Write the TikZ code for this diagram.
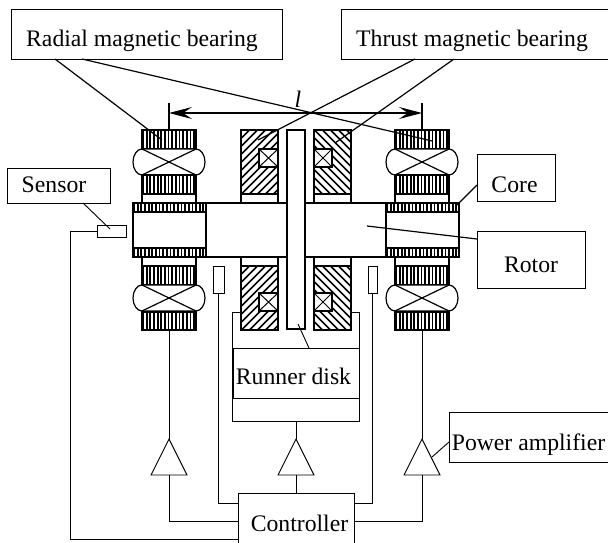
\documentclass[tikz,border=0pt]{standalone}
\usepackage{fontspec}
\setmainfont{Liberation Serif}
\usetikzlibrary{arrows.meta}
\newcommand{\lbl}[3]{\hspace*{#1pt}\smash{\raisebox{-#2pt}{#3}}}
\newcommand{\vstripes}[4]{% x1 x2 y1 y2
  \draw[fill=white,main] ({#1},#3) rectangle ({#2},#4);
  \pgfmathsetmacro{\nst}{int(((#2)-(#1)-1)/3.65)}
  \foreach \i in {0,...,\nst} \draw[line width=1.8pt] ({#1+1+\i*3.65},#3) -- ({#1+1+\i*3.65},#4);
}
\newcommand{\hatchbox}[5]{% x1 x2 y1 y2 dir
  \begin{scope}
    \clip (#1,#3) rectangle (#2,#4);
    \foreach \i in {-90,-82,...,90} \draw[line width=1.5pt] ({(#1+#2)/2+\i-#5*50},{(#3+#4)/2+50}) -- ({(#1+#2)/2+\i+#5*50},{(#3+#4)/2-50});
  \end{scope}
  \draw[main] (#1,#3) rectangle (#2,#4);
}
\newcommand{\xsquare}[4]{%
  \draw[main,fill=white] (#1,#3) rectangle (#2,#4);
  \draw[thin1] (#1,#3) -- (#2,#4) (#1,#4) -- (#2,#3);
}
\newcommand{\coil}[2]{% center x, top y
  \draw[main,fill=white] ({#1-27},#2) -- ({#1+27},#2) .. controls ({#1+32},#2+0) and ({#1+36},{#2+6}) .. ({#1+36},{#2+13})
    .. controls ({#1+36},{#2+20}) and ({#1+32},{#2+26}) .. ({#1+27},{#2+26}) -- ({#1-27},{#2+26})
    .. controls ({#1-32},{#2+26}) and ({#1-36},{#2+20}) .. ({#1-36},{#2+13})
    .. controls ({#1-36},{#2+6}) and ({#1-32},#2) .. ({#1-27},#2) -- cycle;
  \draw[main] ({#1-27},#2) -- ({#1+27},{#2+26}) ({#1-27},{#2+26}) -- ({#1+27},#2);
}
\newcommand{\bearing}[1]{% center x
  \vstripes{#1-27}{#1+27}{130}{149}
  \coil{#1}{149}
  \vstripes{#1-27}{#1+27}{175}{194}
  \draw[main,fill=white] ({#1-27},194) rectangle ({#1+27},203);
  \draw[main,fill=white] ({#1-27},257) rectangle ({#1+27},266);
  \vstripes{#1-27}{#1+27}{266}{285}
  \coil{#1}{285}
  \vstripes{#1-27}{#1+27}{312}{330}
}
\tikzset{
  main/.style={line width=1.2pt,line join=miter},
  thin1/.style={line width=1pt},
  wire/.style={line width=0.9pt,line join=miter},
  lab/.style={draw,line width=0.9pt,fill=white,inner sep=0pt,font=\fontsize{23.7}{26}\selectfont,anchor=center},
  gap/.style={draw,line width=1pt,fill=white,inner sep=0pt},
  amp/.style={line width=0.9pt,fill=white,line join=miter},
  dimarrow/.style={{Stealth[length=23pt,width=12pt,inset=9pt]}-{Stealth[length=23pt,width=12pt,inset=9pt]},line width=1.1pt}
}
\begin{document}
\begin{tikzpicture}[x=1pt,y=-1pt]
\useasboundingbox (0,0) rectangle (608,543);
\clip (0,0) rectangle (608,543);

% rotor
\draw[main] (206,203) -- (386,203) (206,257) -- (386,257);
\draw[main,fill=white] (133,203) rectangle (206,257);
\draw[main,fill=white] (386,203) rectangle (459,257);
\vstripes{133}{206}{203}{212}
\vstripes{133}{206}{248}{257}
\vstripes{386}{459}{203}{212}
\vstripes{386}{459}{248}{257}

% radial bearings
\bearing{169}
\bearing{422}

% thrust stators
\hatchbox{241}{278}{130}{194}{1}
\hatchbox{241}{278}{266}{330}{1}
\hatchbox{314}{351}{130}{194}{-1}
\hatchbox{314}{351}{266}{330}{-1}
\draw[main,fill=white] (241,194) rectangle (278,203);
\draw[main,fill=white] (241,257) rectangle (278,266);
\draw[main,fill=white] (314,194) rectangle (351,203);
\draw[main,fill=white] (314,257) rectangle (351,266);
\xsquare{259}{278}{149}{167}
\xsquare{259}{278}{293}{311}
\xsquare{314}{332}{149}{167}
\xsquare{314}{332}{293}{311}

% runner disk
\node[draw,line width=1.2pt,fill=white,inner sep=0pt,minimum width=18pt,minimum height=199pt] (disk) at (296,229.5) {};

% labels
\node[lab,minimum width=271pt,minimum height=50pt] (radial) at (146.5,34) {\lbl{-9}{13}{Radial magnetic bearing}};
\node[lab,minimum width=280pt,minimum height=50pt] (thrust) at (481,34) {\lbl{-18}{13}{Thrust magnetic bearing}};
\node[lab,minimum width=103pt,minimum height=35pt] (sensor) at (58.5,185.5) {\lbl{-9}{6.5}{Sensor}};
\node[lab,minimum width=78pt,minimum height=47pt] (core) at (516,177.5) {\lbl{-3}{14.5}{Core}};
\node[lab,minimum width=108pt,minimum height=57pt] (rotor) at (531,259.5) {\lbl{0}{12.5}{Rotor}};
\node[lab,minimum width=159pt,minimum height=50pt] (power) at (528.5,437) {\lbl{0}{13}{Power amplifier}};
\node[lab,minimum width=116pt,minimum height=56pt] (controller) at (296,521) {\lbl{7}{10}{Controller}};
\node[lab,minimum width=126pt,minimum height=50pt] (runner) at (296,373) {\lbl{-5}{11}{Runner disk}};

% sensors
\node[gap,minimum width=29pt,minimum height=12pt] (senbody) at (111.5,231) {};
\node[gap,minimum width=11pt,minimum height=27pt] (gapL) at (218.5,279.5) {};
\node[gap,minimum width=9pt,minimum height=27pt] (gapR) at (372.5,279.5) {};

% named free ends
\coordinate (dimL) at (169,113);
\coordinate (dimR) at (422,113);
\coordinate (tickLt) at (169,103);
\coordinate (tickLb) at (169,130);
\coordinate (tickRt) at (422,103);
\coordinate (tickRb) at (422,130);
\coordinate (ampLt) at (169,439);
\coordinate (ampMt) at (296,439);
\coordinate (ampRt) at (422,439);
\coordinate (ampLb) at (169,475);
\coordinate (ampMb) at (296,475);
\coordinate (ampRb) at (422,475);
\coordinate (coilLb) at (169,330);
\coordinate (coilRb) at (422,330);
\coordinate (ctlLa) at (238,503);
\coordinate (ctlLb) at (238,521);
\coordinate (ctlRa) at (354,503);
\coordinate (ctlRb) at (354,521);
\coordinate (ctlLc) at (238,539);
\coordinate (ctlT) at (296,493);
\coordinate (rr1) at (55,59);
\coordinate (rr1e) at (162,140);
\coordinate (rr2) at (82,59);
\coordinate (rr2e) at (432,141);
\coordinate (tt1) at (415,59);
\coordinate (tt1e) at (258,140);
\coordinate (tt2) at (454,59);
\coordinate (tt2e) at (335,143);
\coordinate (senA) at (83,203);
\coordinate (senE) at (110,229);
\coordinate (coreA) at (477,185);
\coordinate (coreE) at (457,205);
\coordinate (rotA) at (477,239);
\coordinate (rotE) at (367,226);
\coordinate (runA) at (309,348);
\coordinate (runE) at (298,324);
\coordinate (powA) at (449,442);
\coordinate (powE) at (432,457);

% amplifiers
\draw[amp] (ampLt) -- ++(-18,36) -- ++(36,0) -- cycle;
\draw[amp] (ampMt) -- ++(-18,36) -- ++(36,0) -- cycle;
\draw[amp] (ampRt) -- ++(-18,36) -- ++(36,0) -- cycle;

% wiring
\draw[wire] (coilLb) -- (ampLt);
\draw[wire] (coilRb) -- (ampRt);
\draw[wire] (ampLb) |- (ctlLb);
\draw[wire] (ampRb) |- (ctlRb);
\draw[wire] (ampMb) -- (ctlT);
\draw[wire] (gapL.south) |- (ctlLa);
\draw[wire] (gapR.south) |- (ctlRa);
\draw[wire] (senbody.west) -| (70,539) -- (ctlLc);
\draw[wire] (241,312) -- (232,312) -- (232,421) -- (359,421) -- (359,312) -- (351,312);
\draw[wire] (296,421) -- (ampMt);

% dimension
\draw[main] (tickLt) -- (tickLb);
\draw[main] (tickRt) -- (tickRb);
\draw[dimarrow] (dimL) -- (dimR);
\node[inner sep=0pt,font=\fontsize{23.7}{26}\selectfont\itshape] (len) at (298,99) {l};

% leaders
\draw[main] (rr1) -- (rr1e);
\draw[main] (rr2) -- (rr2e);
\draw[main] (tt1) -- (tt1e);
\draw[main] (tt2) -- (tt2e);
\draw[wire] (senA) -- (senE);
\draw[main] (coreA) -- (coreE);
\draw[main] (rotA) -- (rotE);
\draw[wire] (runA) -- (runE);
\draw[wire] (powA) -- (powE);
\end{tikzpicture}
\end{document}
